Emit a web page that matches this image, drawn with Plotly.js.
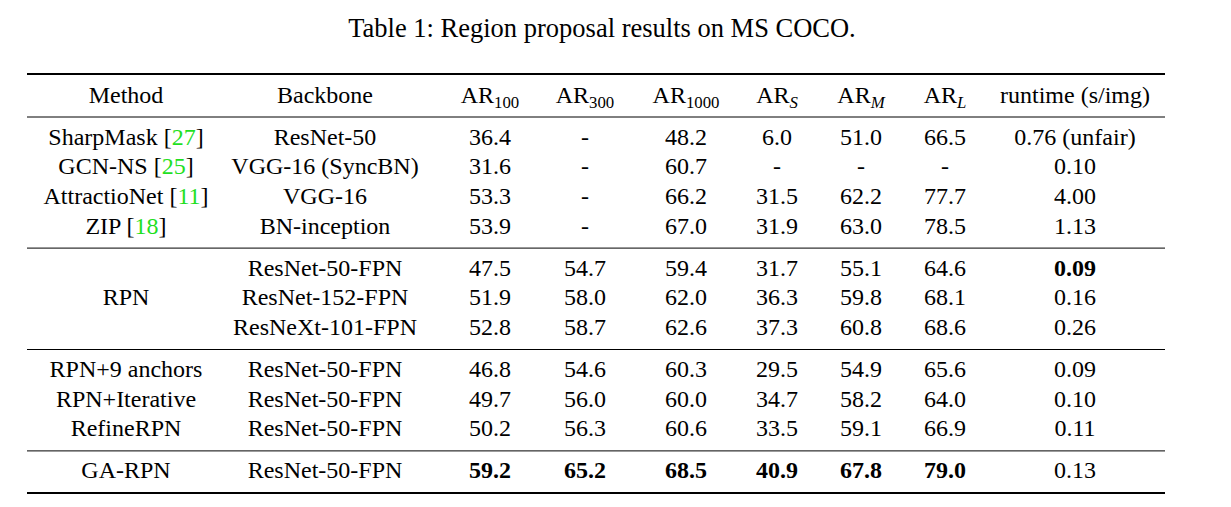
<!DOCTYPE html>
<html>
<head>
<meta charset="utf-8">
<script src="https://cdn.plot.ly/plotly-3.0.1.min.js"></script>
<style>html,body{margin:0;padding:0;background:#fff;}#chart{width:1231px;height:507px;}</style>
</head>
<body>
<div id="chart"></div>
<script>
// ---- data ----
const titleText = "Table 1: Region proposal results on MS COCO.";
const headers = ["Method", "Backbone", "AR<sub>100</sub>", "AR<sub>300</sub>", "AR<sub>1000</sub>",
                 "AR<sub><i>S</i></sub>", "AR<sub><i>M</i></sub>", "AR<sub><i>L</i></sub>", "runtime (s/img)"];
const groups = [4, 3, 3, 1];
const methods = ["SharpMask", "GCN-NS", "AttractioNet", "ZIP", "", "RPN", "", "RPN+9 anchors", "RPN+Iterative", "RefineRPN", "GA-RPN"];
const refs = ["27", "25", "11", "18", "", "", "", "", "", "", ""];
const backbones = ["ResNet-50", "VGG-16 (SyncBN)", "VGG-16", "BN-inception", "ResNet-50-FPN", "ResNet-152-FPN",
                   "ResNeXt-101-FPN", "ResNet-50-FPN", "ResNet-50-FPN", "ResNet-50-FPN", "ResNet-50-FPN"];
const ar100 = [36.4, 31.6, 53.3, 53.9, 47.5, 51.9, 52.8, 46.8, 49.7, 50.2, 59.2];
const ar300 = [null, null, null, null, 54.7, 58.0, 58.7, 54.6, 56.0, 56.3, 65.2];
const ar1000 = [48.2, 60.7, 66.2, 67.0, 59.4, 62.0, 62.6, 60.3, 60.0, 60.6, 68.5];
const arS = [6.0, null, 31.5, 31.9, 31.7, 36.3, 37.3, 29.5, 34.7, 33.5, 40.9];
const arM = [51.0, null, 62.2, 63.0, 55.1, 59.8, 60.8, 54.9, 58.2, 59.1, 67.8];
const arL = [66.5, null, 77.7, 78.5, 64.6, 68.1, 68.6, 65.6, 64.0, 66.9, 79.0];
const runtime = [0.76, 0.10, 4.00, 1.13, 0.09, 0.16, 0.26, 0.09, 0.10, 0.11, 0.13];
const runtimeNote = [" (unfair)", "", "", "", "", "", "", "", "", "", ""];
// bold cells: [rowIndex, columnKey]
const boldCells = [[10, "ar100"], [10, "ar300"], [10, "ar1000"], [10, "arS"], [10, "arM"], [10, "arL"], [4, "runtime"]];

// ---- layout geometry ----
const colX = [126, 325, 490, 585, 686, 777, 861, 945, 1075];
const headerY = 96.5;
const firstRuleY = 74, headRuleY = 117;
const rowStep = 29.7, padTop = 21.5, padBottom = 20.5;
const tableLeft = 27, tableRight = 1165;
const fontFam = '"Liberation Serif", "Times New Roman", Times, serif';
const fs = 24;
const titleFs = 26.5;

// compute row positions and rules
const rowY = [];
const rules = [{y: firstRuleY, w: 2}, {y: headRuleY, w: 1}];
let cur = headRuleY;
groups.forEach((n, gi) => {
  for (let i = 0; i < n; i++) rowY.push(cur + padTop + i * rowStep);
  cur = cur + padTop + (n - 1) * rowStep + padBottom;
  rules.push({y: cur, w: gi === groups.length - 1 ? 2 : 1});
});

const isBold = (r, k) => boldCells.some(c => c[0] === r && c[1] === k);
const fmt = (v, d, r, k) => {
  if (v === null) return "-";
  const s = v.toFixed(d);
  return isBold(r, k) ? "<b>" + s + "</b>" : s;
};

const cols = [
  methods.map((m, i) => m + (refs[i] ? ' [<span style="color:#1fe01f">' + refs[i] + '</span>]' : "")),
  backbones,
  ar100.map((v, i) => fmt(v, 1, i, "ar100")),
  ar300.map((v, i) => fmt(v, 1, i, "ar300")),
  ar1000.map((v, i) => fmt(v, 1, i, "ar1000")),
  arS.map((v, i) => fmt(v, 1, i, "arS")),
  arM.map((v, i) => fmt(v, 1, i, "arM")),
  arL.map((v, i) => fmt(v, 1, i, "arL")),
  runtime.map((v, i) => fmt(v, 2, i, "runtime") + runtimeNote[i])
];

const traces = cols.map((c, ci) => {
  const xs = [colX[ci]], ys = [headerY], ts = [headers[ci]];
  c.forEach((t, ri) => { if (t !== "") { xs.push(colX[ci]); ys.push(rowY[ri]); ts.push(t); } });
  return {
    type: "scatter", mode: "text", x: xs, y: ys, text: ts,
    textposition: "middle center",
    textfont: {family: fontFam, size: fs, color: "#000"},
    hoverinfo: "skip", cliponaxis: false
  };
});

const shapes = rules.map(r => ({
  type: "line", xref: "x", yref: "y", x0: tableLeft, x1: tableRight, y0: r.y, y1: r.y,
  line: {color: "#000", width: r.w}
}));

const layout = {
  width: 1231, height: 507,
  margin: {l: 0, r: 0, t: 0, b: 0, pad: 0},
  paper_bgcolor: "#fff", plot_bgcolor: "#fff",
  showlegend: false, hovermode: false,
  title: {text: titleText, font: {family: fontFam, size: titleFs, color: "#000"},
          x: 602 / 1231, xanchor: "center", y: 1 - 28 / 507, yanchor: "middle", yref: "paper"},
  xaxis: {range: [0, 1231], visible: false, fixedrange: true},
  yaxis: {range: [507, 0], visible: false, fixedrange: true},
  shapes: shapes
};

Plotly.newPlot("chart", traces, layout, {displayModeBar: false, staticPlot: true});
</script>
</body>
</html>
